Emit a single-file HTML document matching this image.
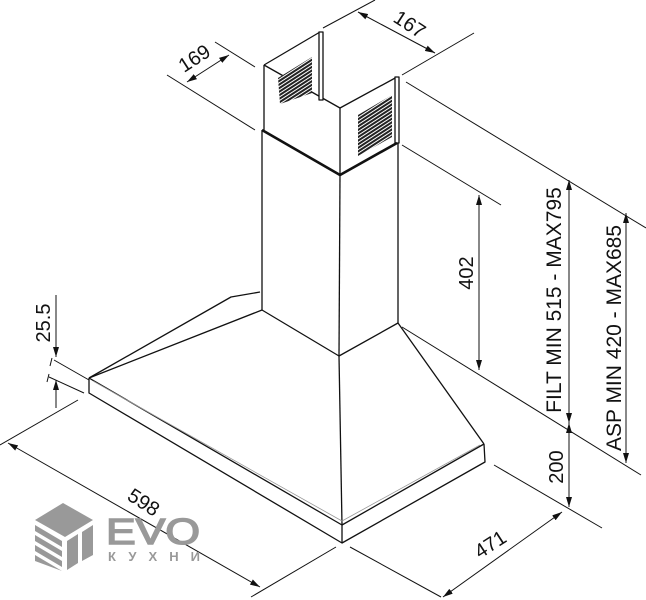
<!DOCTYPE html>
<html><head><meta charset="utf-8"><style>
html,body{margin:0;padding:0;background:#fff;}
svg{display:block;}
text{font-family:"Liberation Sans",sans-serif;fill:#111;}
</style></head><body>
<svg width="646" height="600" viewBox="0 0 646 600" xmlns="http://www.w3.org/2000/svg">
<defs>
<pattern id="hat" width="4" height="3" patternUnits="userSpaceOnUse" patternTransform="rotate(-33)">
<rect width="4" height="3" fill="#fff"/><rect width="4" height="2" fill="#222"/>
</pattern>
<marker id="ar" viewBox="0 0 10 6" refX="10" refY="3" markerWidth="10" markerHeight="6" orient="auto-start-reverse" markerUnits="userSpaceOnUse">
<path d="M0,0 L10,3 L0,6 z" fill="#111"/></marker>
</defs>
<g stroke="#111" stroke-width="1.3" fill="none" stroke-linejoin="round">
<path d="M264,65 L320,32"/>
<path d="M264,65 L340,108 L397,77"/>
<rect x="319" y="32" width="4" height="68" fill="#fff"/>
<rect x="395" y="77" width="4" height="66" fill="#fff"/>
<polygon points="278,78 312,57 312,93 280,104" fill="url(#hat)" stroke="none"/>
<polygon points="358,115 392,95 392,137 358,156" fill="url(#hat)" stroke="none"/>
<path d="M264,65 L264,130"/>
<path d="M340,108 L340,175"/>
<path d="M262,130 L340,175 L397,143" stroke-width="2.6"/>
<path d="M262,130 L262,310"/>
<path d="M340,175 L339,356"/>
<path d="M398,143 L398,323"/>
<path d="M262,310 L339,356 L398,323"/>
<path d="M262,310 L89,378"/>
<path d="M260,292 L231,297 L89,378"/>
<path d="M339,356 L342,525"/>
<path d="M398,323 L484,444"/>
<path d="M89,378 L342,525 L484,444"/>
<path d="M93,381 L342,521 L480,445" stroke="#999" stroke-width="0.8"/>
<path d="M89,378 L89,393 L342,543 L485,462 L484,444"/>
<path d="M342,525 L342,543"/>
<path d="M406,82 L646,228" stroke-width="1"/>
<path d="M402,327 L641,475" stroke-width="1"/>
<path d="M402,145 L501,205" stroke-width="1"/>
<path d="M494,465 L602,528" stroke-width="1"/>
<path d="M215,42 L255,67" stroke-width="1"/>
<path d="M167,75 L255,130" stroke-width="1"/>
<path d="M187,82 L229,55" stroke-width="1" marker-start="url(#ar)" marker-end="url(#ar)"/>
<path d="M323,28 L375,0" stroke-width="1"/>
<path d="M402,75 L474,33" stroke-width="1"/>
<path d="M358,12 L435,53" stroke-width="1" marker-start="url(#ar)" marker-end="url(#ar)"/>
<path d="M479,195 L479,370" stroke-width="1" marker-start="url(#ar)" marker-end="url(#ar)"/>
<path d="M569,180 L569,423" stroke-width="1" marker-start="url(#ar)" marker-end="url(#ar)"/>
<path d="M569,423 L569,507" stroke-width="1" marker-start="url(#ar)" marker-end="url(#ar)"/>
<path d="M626,213 L626,463" stroke-width="1" marker-start="url(#ar)" marker-end="url(#ar)"/>
<path d="M350,547 L441,597" stroke-width="1"/>
<path d="M443,597 L562,512" stroke-width="1" marker-start="url(#ar)" marker-end="url(#ar)"/>
<path d="M78,400 L0,445" stroke-width="1"/>
<path d="M336,547 L251,597" stroke-width="1"/>
<path d="M8,443 L260,587" stroke-width="1" marker-start="url(#ar)" marker-end="url(#ar)"/>
<path d="M56,295 L56,357" stroke-width="1" marker-end="url(#ar)"/>
<path d="M56,408 L56,380" stroke-width="1" marker-end="url(#ar)"/>
<path d="M54,360 L89,380" stroke-width="1"/>
<path d="M49,377 L84,393" stroke-width="1"/>
<path d="M52,358 L50,366 M49,374 L47,382" stroke-width="1"/>
</g>
<g font-size="20">
<text x="198" y="64" text-anchor="middle" transform="rotate(-33 198 64)">169</text>
<text x="406" y="30" text-anchor="middle" transform="rotate(33 406 30)">167</text>
<text x="473" y="273" text-anchor="middle" transform="rotate(-90 473 273)">402</text>
<text x="561" y="300" text-anchor="middle" font-size="21" transform="rotate(-90 561 300)">FILT MIN 515 - MAX795</text>
<text x="621" y="338" text-anchor="middle" font-size="21" transform="rotate(-90 621 338)">ASP MIN 420 - MAX685</text>
<text x="563" y="467" text-anchor="middle" transform="rotate(-90 563 467)">200</text>
<text x="494" y="550" text-anchor="middle" transform="rotate(-33 494 550)">471</text>
<text x="140" y="508" text-anchor="middle" transform="rotate(33 140 508)">598</text>
<text x="50" y="323" text-anchor="middle" transform="rotate(-90 50 323)">25.5</text>
</g>
<g fill="#999">
<polygon points="35,520 63,503 93,520 65,537"/>
<polygon points="35,525 62,541 62,547 35,531"/>
<polygon points="35,535 62,551 62,557 35,541"/>
<polygon points="35,545 62,561 62,567 35,551"/>
<polygon points="35,555 62,571 62,571 35,561"/>
<polygon points="67,541 78,534 78,563 67,570"/>
<polygon points="82,532 93,525 93,555 82,561"/>
<text x="106" y="544" font-size="36" style="fill:#999;stroke:#999;stroke-width:1.5" textLength="94" lengthAdjust="spacingAndGlyphs">EVO</text>
<text x="108" y="561" font-size="13" font-weight="bold" style="fill:#999" textLength="92">КУХНИ</text>
</g>
</svg>
</body></html>
